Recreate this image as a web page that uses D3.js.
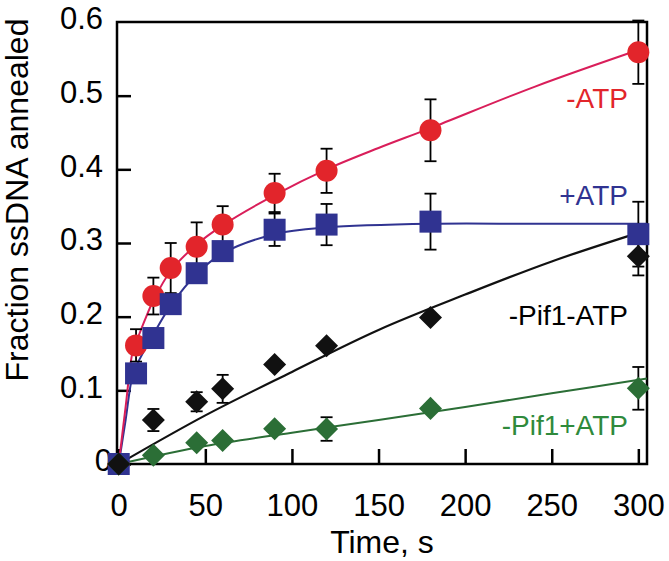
<!DOCTYPE html>
<html>
<head>
<meta charset="utf-8">
<script src="https://cdn.jsdelivr.net/npm/d3@7"></script>
<style>
  html, body { margin: 0; padding: 0; background: #fff; }
  svg { display: block; font-family: "Liberation Sans", Arial, Helvetica, sans-serif; }
</style>
</head>
<body>
<svg id="chart" width="669" height="561"></svg>
<script>
// ---- data ----
const xTicks = [0, 50, 100, 150, 200, 250, 300];
const yTicks = [0, 0.1, 0.2, 0.3, 0.4, 0.5, 0.6];

const timesA = [0, 10, 20, 30, 45, 60, 90, 120, 180, 300];
const minusATP    = [0, 0.161, 0.228, 0.266, 0.295, 0.325, 0.368, 0.398, 0.453, 0.559];
const minusATPErr = [0, 0.022, 0.025, 0.034, 0.033, 0.025, 0.026, 0.030, 0.042, 0.043];
const plusATP     = [0, 0.123, 0.171, 0.217, 0.259, 0.289, 0.318, 0.325, 0.329, 0.312];
const plusATPErr  = [0, 0.006, 0.008, 0.010, 0.010, 0.010, 0.022, 0.028, 0.038, 0.044];

const timesB = [0, 20, 45, 60, 90, 120, 180, 300];
const noPifMinusATP    = [0, 0.0597, 0.0845, 0.102, 0.135, 0.1605, 0.199, 0.282];
const noPifMinusATPErr = [0, 0.015, 0.013, 0.019, 0.005, 0.005, 0.005, 0.026];
const noPifPlusATP     = [0, 0.012, 0.029, 0.032, 0.048, 0.0475, 0.0755, 0.1027];
const noPifPlusATPErr  = [0, 0.004, 0.004, 0.004, 0.004, 0.016, 0.004, 0.029];

// fitted curves
const redFitT  = [0, 4, 8, 11, 15, 20, 30, 45, 60, 90, 120, 150, 180, 240, 305];
const redFitV  = [0, 0.078, 0.152, 0.171, 0.195, 0.222, 0.262, 0.298, 0.324, 0.365, 0.400, 0.429, 0.456, 0.512, 0.566];
const blueFitT = [0, 4, 8, 12, 20, 30, 45, 60, 90, 120, 180, 240, 305];
const blueFitV = [0, 0.06, 0.12, 0.142, 0.176, 0.215, 0.258, 0.286, 0.312, 0.321, 0.326, 0.326, 0.326];
const blackFitT = [0, 50, 100, 150, 200, 250, 305];
const blackFitV = [0, 0.066, 0.125, 0.182, 0.230, 0.275, 0.3175];
const greenFitT = [0, 50, 100, 150, 200, 250, 305];
const greenFitV = [0, 0.0245, 0.0425, 0.0597, 0.0775, 0.096, 0.116];

const labels = ["-ATP", "+ATP", "-Pif1-ATP", "-Pif1+ATP"];

// ---- layout ----
const W = 669, H = 561;
const m = { left: 117, top: 22, right: 22, bottom: 97 };
const svg = d3.select("#chart");

const x = d3.scaleLinear().domain([-1, 305]).range([m.left, W - m.right]);
const y = d3.scaleLinear().domain([0, 0.6]).range([H - m.bottom, m.top]);

const colors = {
  red: "#e2252b", redLine: "#d91e5a",
  blue: "#303391", green: "#2b6e36", greenText: "#2f8a3c", black: "#111"
};

// axes
const xAxis = d3.axisBottom(x).tickValues(xTicks).tickSizeInner(-15).tickSizeOuter(0).tickPadding(30);
const yAxis = d3.axisLeft(y).tickValues(yTicks.filter(v => v < 0.6)).tickSizeInner(-14).tickSizeOuter(0).tickPadding(14)
  .tickFormat(d => d === 0 ? "0" : d3.format(".1f")(d));

const gx = svg.append("g").attr("transform", `translate(0,${H - m.bottom})`).call(xAxis);
const gy = svg.append("g").attr("transform", `translate(${m.left},0)`).call(yAxis);
[gx, gy].forEach(g => {
  g.select(".domain").remove();
  g.selectAll(".tick line").attr("stroke", "#000").attr("stroke-width", 2.5);
  g.selectAll(".tick text").attr("fill", "#000").style("font-size", "31px");
});
gy.selectAll(".tick text").attr("dy", "0.22em");
gy.selectAll(".tick").filter(d => d === 0).select("text").attr("x", -5);
// 0.6 label at the top frame
svg.append("text").attr("x", m.left - 14).attr("y", y(0.6)).attr("dy", "0.22em")
  .attr("text-anchor", "end").style("font-size", "31px").text("0.6");

// frame
svg.append("rect")
  .attr("x", x(-1)).attr("y", y(0.6))
  .attr("width", x(305) - x(-1)).attr("height", y(0) - y(0.6))
  .attr("fill", "none").attr("stroke", "#000").attr("stroke-width", 2.5);

// axis titles
svg.append("text").attr("x", (x(-1) + x(305)) / 2).attr("y", 553)
  .attr("text-anchor", "middle").style("font-size", "32px").text("Time, s");
svg.append("text").attr("transform", "translate(28,200) rotate(-90)")
  .attr("text-anchor", "middle").style("font-size", "32px").text("Fraction ssDNA annealed");

// fit curves
const line = d3.line().x(d => x(d[0])).y(d => y(d[1])).curve(d3.curveCatmullRom.alpha(0.5));
function fit(T, V, color, w) {
  svg.append("path").datum(T.map((t, i) => [t, V[i]]))
    .attr("d", line).attr("fill", "none").attr("stroke", color).attr("stroke-width", w);
}
fit(greenFitT, greenFitV, colors.green, 2);
fit(blackFitT, blackFitV, colors.black, 2.2);
fit(blueFitT, blueFitV, colors.blue, 2);
fit(redFitT, redFitV, colors.redLine, 2);

// error bars
function errs(T, V, E) {
  const g = svg.append("g").attr("stroke", "#000").attr("stroke-width", 1.8);
  T.forEach((t, i) => {
    if (!E[i]) return;
    const cx = x(t), y1 = y(V[i] + E[i]), y2 = y(V[i] - E[i]);
    g.append("line").attr("x1", cx).attr("x2", cx).attr("y1", y1).attr("y2", y2);
    g.append("line").attr("x1", cx - 6).attr("x2", cx + 6).attr("y1", y1).attr("y2", y1);
    g.append("line").attr("x1", cx - 6).attr("x2", cx + 6).attr("y1", y2).attr("y2", y2);
  });
}
errs(timesA, minusATP, minusATPErr);
errs(timesA, plusATP, plusATPErr);
errs(timesB, noPifMinusATP, noPifMinusATPErr);
errs(timesB, noPifPlusATP, noPifPlusATPErr);

// markers
svg.append("g").selectAll("circle").data(timesA).join("circle")
  .attr("cx", t => x(t)).attr("cy", (t, i) => y(minusATP[i])).attr("r", 11)
  .attr("fill", colors.red);
svg.append("g").selectAll("rect").data(timesA).join("rect")
  .attr("x", t => x(t) - 11).attr("y", (t, i) => y(plusATP[i]) - 11)
  .attr("width", 22).attr("height", 22).attr("fill", colors.blue);
const diamond = d3.symbol().type(d3.symbolSquare).size(265);
svg.append("g").selectAll("path").data(timesB).join("path")
  .attr("d", diamond)
  .attr("transform", (t, i) => `translate(${x(t)},${y(noPifPlusATP[i])}) rotate(45)`)
  .attr("fill", colors.green);
svg.append("g").selectAll("path").data(timesB).join("path")
  .attr("d", diamond)
  .attr("transform", (t, i) => `translate(${x(t)},${y(noPifMinusATP[i])}) rotate(45)`)
  .attr("fill", colors.black);

// series labels
const lab = [
  { t: labels[0], y: 108, c: colors.red },
  { t: labels[1], y: 205, c: colors.blue },
  { t: labels[2], y: 325, c: "#000" },
  { t: labels[3], y: 435, c: colors.greenText }
];
svg.append("g").selectAll("text").data(lab).join("text")
  .attr("x", 628).attr("y", d => d.y).attr("text-anchor", "end")
  .style("font-size", "28px").attr("fill", d => d.c).text(d => d.t);
</script>
</body>
</html>
